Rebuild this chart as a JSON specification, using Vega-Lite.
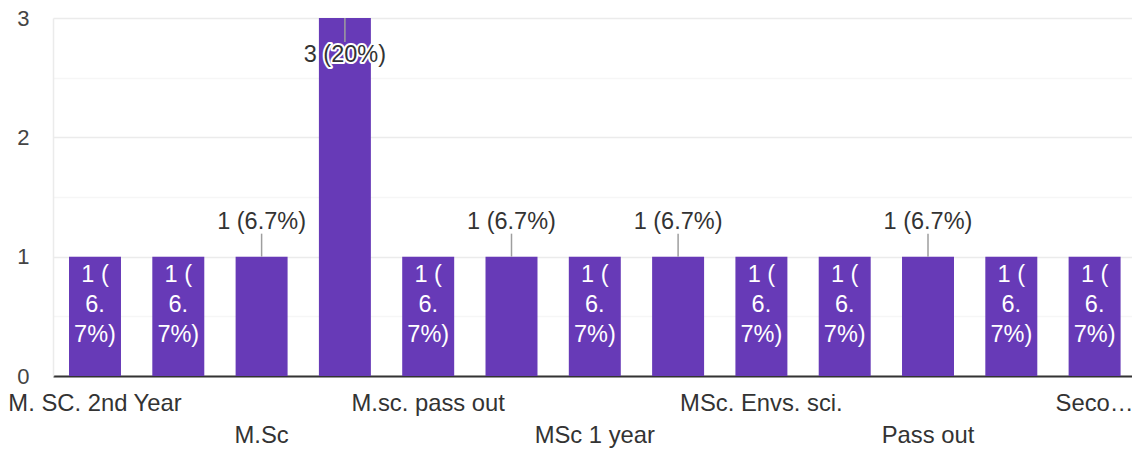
{
  "$schema": "https://vega.github.io/schema/vega-lite/v6.json",
  "autosize": {"type": "none"},
  "width": 1079,
  "height": 358,
  "padding": {"left": 53, "top": 18, "right": 0, "bottom": 75},
  "background": "white",
  "config": {
    "view": {"stroke": null},
    "font": "Liberation Sans",
    "text": {"font": "Liberation Sans"}
  },
  "data": {
    "values": [
      {"category": "M. SC. 2nd Year", "count": 1, "pos": "in", "label": "1 (6.7%)", "wrapped": "1 (\n6.\n7%)"},
      {"category": "M.Sc 2nd year", "count": 1, "pos": "in", "label": "1 (6.7%)", "wrapped": "1 (\n6.\n7%)"},
      {"category": "M.Sc", "count": 1, "pos": "out", "label": "1 (6.7%)", "wrapped": "1 (6.7%)"},
      {"category": "M.Sc.", "count": 3, "pos": "top", "label": "3 (20%)", "wrapped": "3 (20%)"},
      {"category": "M.sc. pass out", "count": 1, "pos": "in", "label": "1 (6.7%)", "wrapped": "1 (\n6.\n7%)"},
      {"category": "MSc", "count": 1, "pos": "out", "label": "1 (6.7%)", "wrapped": "1 (6.7%)"},
      {"category": "MSc 1 year", "count": 1, "pos": "in", "label": "1 (6.7%)", "wrapped": "1 (\n6.\n7%)"},
      {"category": "MSc 2nd year", "count": 1, "pos": "out", "label": "1 (6.7%)", "wrapped": "1 (6.7%)"},
      {"category": "MSc. Envs. sci.", "count": 1, "pos": "in", "label": "1 (6.7%)", "wrapped": "1 (\n6.\n7%)"},
      {"category": "MSc. Zoology", "count": 1, "pos": "in", "label": "1 (6.7%)", "wrapped": "1 (\n6.\n7%)"},
      {"category": "Pass out", "count": 1, "pos": "out", "label": "1 (6.7%)", "wrapped": "1 (6.7%)"},
      {"category": "Post graduate", "count": 1, "pos": "in", "label": "1 (6.7%)", "wrapped": "1 (\n6.\n7%)"},
      {"category": "Second year", "count": 1, "pos": "in", "label": "1 (6.7%)", "wrapped": "1 (\n6.\n7%)"}
    ]
  },
  "encoding": {
    "x": {
      "field": "category",
      "type": "nominal",
      "sort": null,
      "scale": {"paddingInner": 0.376, "paddingOuter": 0.1645, "align": 0.584},
      "axis": {
        "title": null,
        "ticks": false,
        "domainColor": "#333333",
        "domainWidth": 2,
        "labelAngle": 0,
        "labelFont": "Liberation Sans",
        "labelFontSize": 23.8,
        "labelColor": "#333333",
        "labelPadding": 15,
        "labelBaseline": "top",
        "labelLineHeight": 32,
        "labelLimit": 400,
        "labelOverlap": false,
        "labelBound": false,
        "labelFlush": false,
        "labelExpr": "indexof(['M. SC. 2nd Year','M.sc. pass out','MSc. Envs. sci.'], datum.value) >= 0 ? datum.value : (indexof(['M.Sc','MSc 1 year','Pass out'], datum.value) >= 0 ? ['', datum.value] : (datum.value == 'Second year' ? 'Seco…' : ''))"
      }
    },
    "y": {
      "field": "count",
      "type": "quantitative",
      "scale": {"domain": [0, 3], "nice": false},
      "axis": {
        "title": null,
        "values": [0, 0.5, 1, 1.5, 2, 2.5, 3],
        "ticks": false,
        "domainColor": "#ebebeb",
        "domainWidth": 1.5,
        "grid": true,
        "gridWidth": 1.5,
        "gridColor": {"condition": {"test": "datum.value % 1 !== 0", "value": "#f6f6f6"}, "value": "#ebebeb"},
        "labelFont": "Liberation Sans",
        "labelFontSize": 22,
        "labelColor": "#444444",
        "labelPadding": 24,
        "labelExpr": "datum.value % 1 !== 0 ? '' : format(datum.value, 'd')"
      }
    }
  },
  "layer": [
    {"mark": {"type": "bar", "color": "#673ab7"}},
    {
      "transform": [{"filter": "datum.pos == 'in'"}],
      "mark": {"type": "text", "color": "white", "fontSize": 23.5, "baseline": "top", "dy": 6, "lineHeight": 30, "lineBreak": "\n", "align": "center"},
      "encoding": {"text": {"field": "wrapped"}}
    },
    {
      "transform": [{"filter": "datum.pos == 'out'"}],
      "mark": {"type": "rule", "color": "#9e9e9e", "strokeWidth": 1.5, "y2Offset": -23},
      "encoding": {"y2": {"field": "count"}}
    },
    {
      "transform": [{"filter": "datum.pos == 'out'"}],
      "mark": {"type": "text", "color": "#333333", "fontSize": 23.5, "baseline": "middle", "dy": -35, "align": "center"},
      "encoding": {"text": {"field": "label"}}
    },
    {
      "transform": [{"filter": "datum.pos == 'top'"}],
      "mark": {"type": "rule", "color": "#9e9e9e", "strokeWidth": 1.5, "y2Offset": 24},
      "encoding": {"y2": {"field": "count"}}
    },
    {
      "transform": [{"filter": "datum.pos == 'top'"}],
      "mark": {"type": "text", "color": "white", "stroke": "white", "strokeWidth": 4, "strokeJoin": "round", "fontSize": 23.5, "baseline": "middle", "dy": 37, "align": "center"},
      "encoding": {"text": {"field": "label"}}
    },
    {
      "transform": [{"filter": "datum.pos == 'top'"}],
      "mark": {"type": "text", "color": "#333333", "fontSize": 23.5, "baseline": "middle", "dy": 37, "align": "center"},
      "encoding": {"text": {"field": "label"}}
    }
  ]
}
